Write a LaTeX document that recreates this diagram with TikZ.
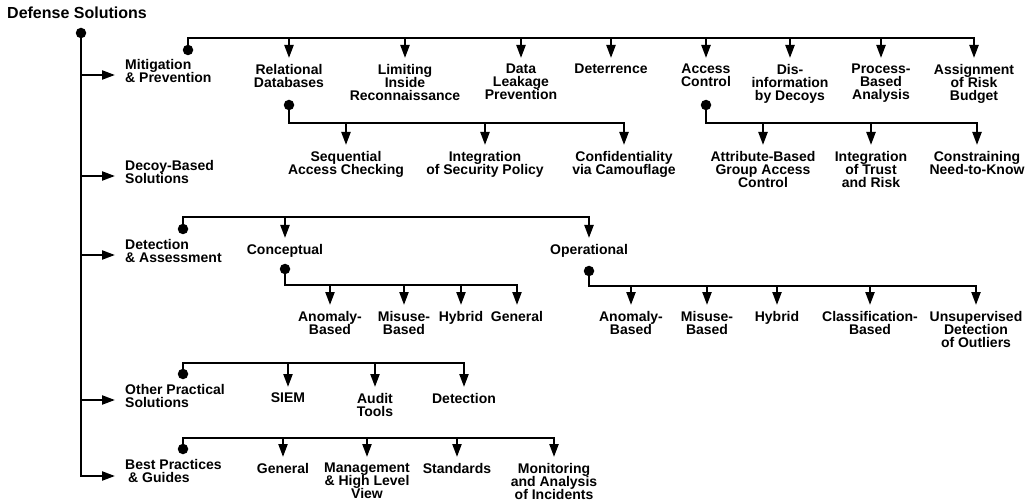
\documentclass[tikz,border=0pt]{standalone}
\usepackage{fontspec}
\setmainfont{Liberation Sans}
\usetikzlibrary{arrows.meta}
\setlength{\lineskiplimit}{-10pt}
\tikzset{
  every node/.style={font=\fontsize{14}{13}\selectfont\bfseries},
  leaf/.style={align=center, anchor=north, inner xsep=0pt, inner ysep=6pt},
  cat/.style={align=left, anchor=north west, inner sep=0pt},
  hub/.style={circle, fill, minimum size=10.5pt, inner sep=0pt},
  branch/.style={line width=2.2pt, line cap=rect},
  arr/.style={-{Triangle[length=13pt,width=9pt]}, line width=2.2pt}
}

\begin{document}
\begin{tikzpicture}[x=1pt,y=-1pt]
\useasboundingbox (0,0) rectangle (1032,502);
\node[anchor=west, inner sep=0pt, font=\fontsize{16}{16}\selectfont\bfseries] (title) at (7,13) {Defense Solutions};
\node[hub] (root) at (81,33) {};

% main categories
\node[cat] (mit) at (125,59) {Mitigation\\\& Prevention};
\node[cat] (decoy) at (125,160) {Decoy-Based\\Solutions};
\node[cat] (detass) at (125,239) {Detection\\\& Assessment};
\node[cat] (other) at (125,384) {Other Practical\\Solutions};
\node[cat] (best) at (125,459) {Best Practices\\\hspace*{3pt}\& Guides};
\coordinate (mitin) at (115,75);
\coordinate (decoyin) at (115,176);
\coordinate (detassin) at (115,255);
\coordinate (otherin) at (115,400);
\coordinate (bestin) at (115,476);
\draw[branch] (root.center) -- (root.center |- bestin);
\foreach \c in {mitin,decoyin,detassin,otherin,bestin}
  \draw[arr] (root.center |- \c) -- (\c);

% mitigation & prevention
\node[hub] (mitdot) at (188,50) {};
\coordinate (mitbar) at (0,38);
\node[leaf] (rel) at (289,58) {Relational\\Databases};
\node[leaf] (lim) at (405,58) {Limiting\\Inside\\Reconnaissance};
\node[leaf] (dlp) at (521,58) {Data\\Leakage\\Prevention};
\node[leaf] (deter) at (611,58) {Deterrence};
\node[leaf] (acc) at (706,58) {Access\\Control};
\node[leaf] (dis) at (790,58) {Dis-\\information\\by Decoys};
\node[leaf] (pba) at (881,58) {Process-\\Based\\Analysis};
\node[leaf] (risk) at (974,58) {Assignment\\of Risk\\Budget};
\draw[branch] (mitdot.center) |- (mitbar -| risk);
\foreach \n in {rel,lim,dlp,deter,acc,dis,pba,risk}
  \draw[arr] (mitbar -| \n) -- (\n.north);

\node[hub] (reldot) at (289,105) {};
\coordinate (relbar) at (0,123);
\node[leaf] (sac) at (346,145) {Sequential\\Access Checking};
\node[leaf] (isp) at (485,145) {Integration\\of Security Policy};
\node[leaf] (cvc) at (624,145) {Confidentiality\\via Camouflage};
\draw[branch] (reldot.center) |- (relbar -| cvc);
\foreach \n in {sac,isp,cvc}
  \draw[arr] (relbar -| \n) -- (\n.north);

\node[hub] (accdot) at (706,105) {};
\node[leaf] (abg) at (763,145) {Attribute-Based\\Group Access\\Control};
\node[leaf] (itr) at (871,145) {Integration\\of Trust\\and Risk};
\node[leaf] (cnk) at (977,145) {Constraining\\Need-to-Know};
\draw[branch] (accdot.center) |- (relbar -| cnk);
\foreach \n in {abg,itr,cnk}
  \draw[arr] (relbar -| \n) -- (\n.north);

% detection & assessment
\node[hub] (detdot) at (183,229) {};
\coordinate (detbar) at (0,217);
\node[leaf] (con) at (285,238) {Conceptual};
\node[leaf] (ope) at (589,238) {Operational};
\draw[branch] (detdot.center) |- (detbar -| ope);
\foreach \n in {con,ope}
  \draw[arr] (detbar -| \n) -- (\n.north);

\node[hub] (condot) at (285,269) {};
\coordinate (conbar) at (0,285);
\node[leaf] (can) at (330,305) {Anomaly-\\Based};
\node[leaf] (cmi) at (404,305) {Misuse-\\Based};
\node[leaf] (chy) at (461,305) {Hybrid};
\node[leaf] (cge) at (517,305) {General};
\draw[branch] (condot.center) |- (conbar -| cge);
\foreach \n in {can,cmi,chy,cge}
  \draw[arr] (conbar -| \n) -- (\n.north);

\node[hub] (opedot) at (589,271) {};
\coordinate (opebar) at (0,286);
\node[leaf] (oan) at (631,305) {Anomaly-\\Based};
\node[leaf] (omi) at (707,305) {Misuse-\\Based};
\node[leaf] (ohy) at (777,305) {Hybrid};
\node[leaf] (ocl) at (870,305) {Classification-\\Based};
\node[leaf] (ous) at (976,305) {Unsupervised\\Detection\\of Outliers};
\draw[branch] (opedot.center) |- (opebar -| ous);
\foreach \n in {oan,omi,ohy,ocl,ous}
  \draw[arr] (opebar -| \n) -- (\n.north);

% other practical solutions
\node[hub] (othdot) at (183,374) {};
\coordinate (othbar) at (0,363);
\node[leaf] (siem) at (288,387) {SIEM};
\node[leaf] (aud) at (375,387) {Audit\\Tools};
\node[leaf] (odet) at (464,387) {Detection};
\draw[branch] (othdot.center) |- (othbar -| odet);
\foreach \n in {siem,aud,odet}
  \draw[arr] (othbar -| \n) -- (\n.north);

% best practices & guides
\node[hub] (bestdot) at (183,449) {};
\coordinate (bestbar) at (0,438);
\node[leaf] (bgen) at (283,457) {General};
\node[leaf] (mhl) at (367,457) {Management\\\& High Level\\View};
\node[leaf] (std) at (457,457) {Standards};
\node[leaf] (mai) at (554,457) {Monitoring\\and Analysis\\of Incidents};
\draw[branch] (bestdot.center) |- (bestbar -| mai);
\foreach \n in {bgen,mhl,std,mai}
  \draw[arr] (bestbar -| \n) -- (\n.north);
\end{tikzpicture}
\end{document}
